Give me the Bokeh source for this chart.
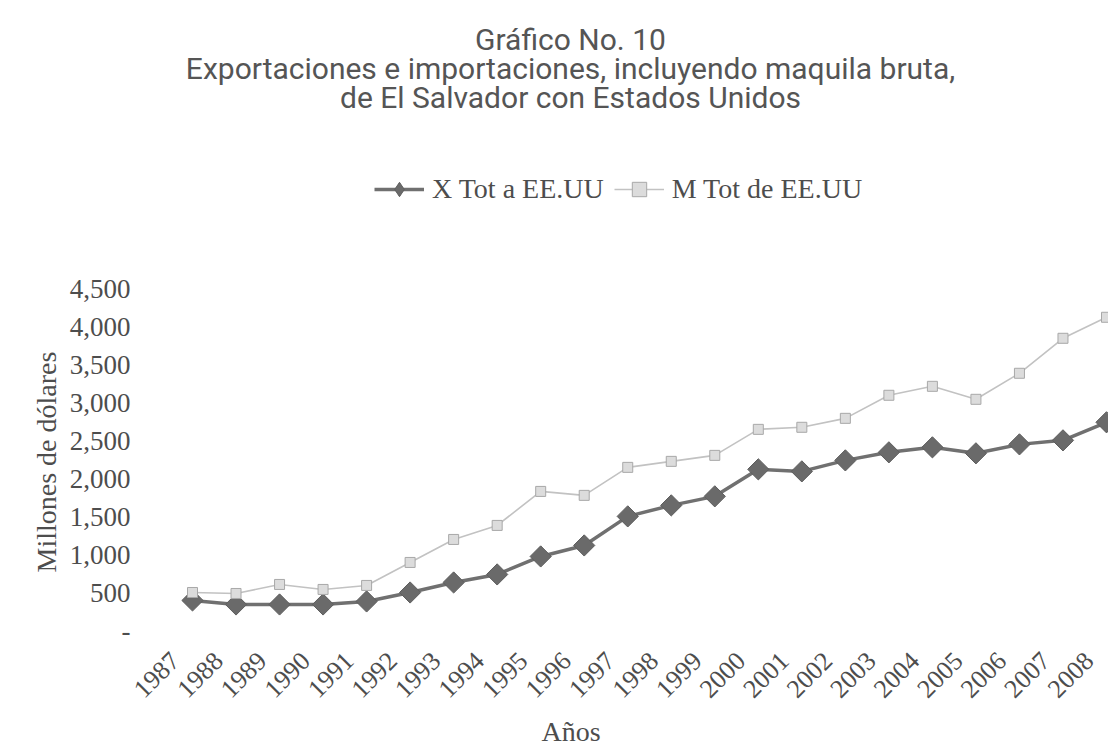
from math import pi
from bokeh.plotting import figure
from bokeh.models import (Label, Title, Legend, LegendItem, FixedTicker,
                          CustomJSTickFormatter, Range1d)
from bokeh.embed import file_html
from bokeh.resources import INLINE

years = list(range(1987, 2009))
x_tot = [396, 343, 343, 343, 383, 501, 633, 739, 976, 1121, 1504, 1649, 1768, 2124,
         2097, 2242, 2348, 2414, 2335, 2453, 2506, 2744]
m_tot = [501, 488, 607, 541, 594, 897, 1200, 1385, 1833, 1781, 2150, 2229, 2308, 2651,
         2678, 2796, 3100, 3218, 3047, 3390, 3851, 4128]
y_ticks = [0, 500, 1000, 1500, 2000, 2500, 3000, 3500, 4000, 4500]
title_lines = ["Gráfico No. 10",
               "Exportaciones e importaciones, incluyendo maquila bruta,",
               "de El Salvador con Estados Unidos"]
series_names = ["X Tot a EE.UU", "M Tot de EE.UU"]
y_label = "Millones de dólares"
x_label = "Años"

# ---- layout (canvas pixels) ----
W, H = 1108, 751
LEFT, RIGHT, BOTTOM = 136, 1108, 633          # frame edges; frame top = 0
FH = BOTTOM
Y0, Y4500 = 631, 289
px_per_unit = (Y0 - Y4500) / 4500.0
y_start = -(BOTTOM - Y0) / px_per_unit
y_end = 4500 + Y4500 / px_per_unit
X1987, X2008 = 192, 1106
px_per_year = (X2008 - X1987) / 21.0
x_start = 1987 - (X1987 - LEFT) / px_per_year
x_end = 1987 + (RIGHT - X1987) / px_per_year
LABEL_SHIFT = 0.4   # category labels sit slightly left of their points, as in the original

p = figure(width=W, height=H, output_backend="svg", toolbar_location=None,
           x_range=Range1d(x_start, x_end), y_range=Range1d(y_start, y_end),
           min_border_top=0, min_border_bottom=H - BOTTOM,
           min_border_left=LEFT, min_border_right=W - RIGHT)
p.outline_line_color = None
p.grid.visible = False
p.background_fill_color = "white"
p.border_fill_color = "white"

serif = "Liberation Serif"
txt = "#4d4d4d"

for ax in (p.xaxis[0], p.yaxis[0]):
    ax.axis_line_color = None
    ax.major_tick_line_color = None
    ax.minor_tick_line_color = None
    ax.major_tick_out = 0
    ax.major_tick_in = 0
    ax.minor_tick_out = 0
    ax.major_label_text_font = serif
    ax.major_label_text_color = txt

p.yaxis.major_label_text_font_size = "27px"
p.yaxis.ticker = FixedTicker(ticks=y_ticks)
p.yaxis.formatter = CustomJSTickFormatter(code="""
    return tick == 0 ? '-' : tick.toLocaleString('en-US');
""")
p.yaxis.major_label_standoff = 6

p.xaxis.major_label_text_font_size = "26px"
p.xaxis.ticker = FixedTicker(ticks=[y - LABEL_SHIFT for y in years])
p.xaxis.formatter = CustomJSTickFormatter(args=dict(shift=LABEL_SHIFT), code="""
    return String(Math.round(tick + shift));
""")
p.xaxis.major_label_orientation = pi / 4
p.xaxis.major_label_standoff = 24

r_x_line = p.line(years, x_tot, line_color="#707070", line_width=3.5)
r_x_pts = p.scatter(years, x_tot, marker="square", angle=pi / 4, size=15,
                    fill_color="#6a6a6a", line_color="#5e5e5e", line_width=1)
r_m_line = p.line(years, m_tot, line_color="#c2c2c2", line_width=1.6)
r_m_pts = p.scatter(years, m_tot, marker="square", size=10,
                    fill_color="#dcdcdc", line_color="#a8a8a8", line_width=1)
# legend-only swatch for the diamond marker (legend swatches are drawn unrotated);
# its single point is NaN so nothing is drawn in the plot area
r_x_key = p.scatter(x=[float("nan")], y=[float("nan")], marker="diamond", size=15,
                    fill_color="#6a6a6a", line_color="#5e5e5e", line_width=1)

legend = Legend(items=[LegendItem(label=series_names[0], renderers=[r_x_line, r_x_key]),
                       LegendItem(label=series_names[1], renderers=[r_m_line, r_m_pts])],
                orientation="horizontal", location=(374 - LEFT, FH - 190 - 18),
                label_text_font=serif, label_text_font_size="28px",
                label_text_color=txt, glyph_width=50, glyph_height=36,
                label_height=32, spacing=10, label_standoff=8,
                border_line_color=None, background_fill_alpha=0,
                padding=0, margin=0)
p.add_layout(legend)

# title lines (centered at x = 570)
for text, base in zip(title_lines, [40, 69, 98]):
    p.add_layout(Label(text=text, x=570 - LEFT, y=FH - base,
                       x_units="screen", y_units="screen",
                       text_align="center", text_baseline="alphabetic",
                       text_font="Roboto", text_font_size="30px",
                       text_color="#555555"))

# axis titles as side-panel titles
p.add_layout(Title(text=y_label, align="left", offset=BOTTOM - 573,
                   text_font=serif, text_font_size="28px",
                   text_font_style="normal", text_color=txt), "left")
p.add_layout(Title(text=x_label, align="left", offset=541 - LEFT,
                   text_font=serif, text_font_size="28px",
                   text_font_style="normal", text_color=txt), "below")

open("out.html", "w").write(file_html(p, INLINE))
